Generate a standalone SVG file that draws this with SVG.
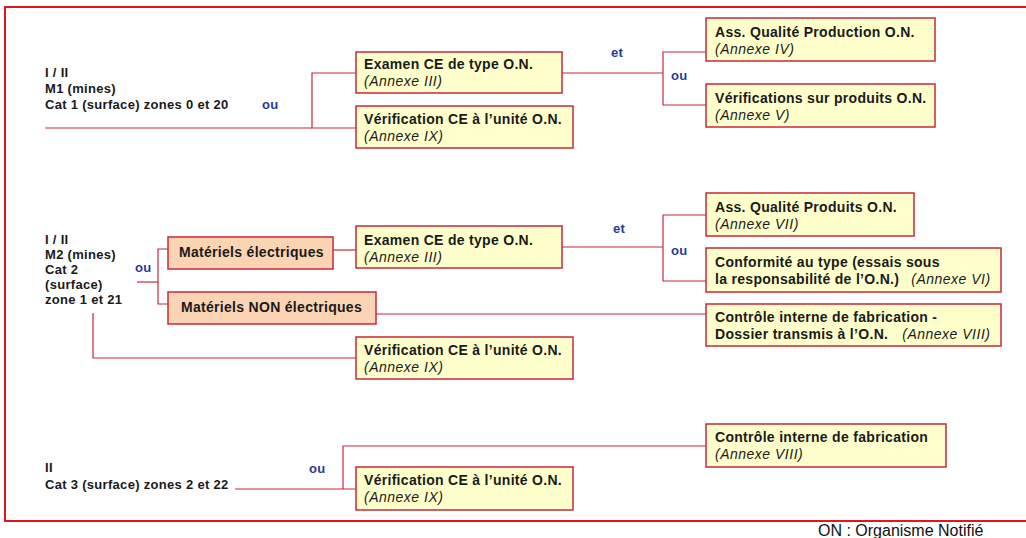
<svg xmlns="http://www.w3.org/2000/svg" width="1026" height="538" viewBox="0 0 1026 538">
<style>
.frame{fill:none;stroke:#e2141c;stroke-width:2}
.y{fill:#ffffcc;stroke:#c8283c;stroke-width:1.5}
.o{fill:#fbd4b4;stroke:#c8283c;stroke-width:1.5}
.ln{fill:none;stroke:#c8283c;stroke-width:1.2}
text{font-family:"Liberation Sans",Arial,sans-serif;font-size:14px;font-weight:bold;fill:#1a1a1a;letter-spacing:0.3px}
.i{font-style:italic;font-weight:normal;letter-spacing:0.5px}
.lab{font-size:13px}
.ou{fill:#1f3c99;font-size:13px}
.foot{font-weight:normal;font-size:16px;fill:#111;letter-spacing:0}
</style>
<rect class="frame" x="5" y="7" width="1040" height="514"/>
<text class="foot" x="818" y="536">ON : Organisme Notifié</text>
<g id="connectors">
<polyline class="ln" points="45,128 312,128"/>
<polyline class="ln" points="356,73 312,73 312,128 356,128"/>
<polyline class="ln" points="562,73 663,73"/>
<polyline class="ln" points="706,52 663,52 663,105 706,105"/>
<polyline class="ln" points="137,282 158,282"/>
<polyline class="ln" points="169,249 158,249 158,304 169,304"/>
<polyline class="ln" points="333,250 356,250"/>
<polyline class="ln" points="562,247 663,247"/>
<polyline class="ln" points="706,215 663,215 663,281 706,281"/>
<polyline class="ln" points="376,314 706,314"/>
<polyline class="ln" points="93,313 93,358 356,358"/>
<polyline class="ln" points="235,489 356,489"/>
<polyline class="ln" points="343,489 343,446 706,446"/>
</g>
<g id="labels">
<text class="lab" x="45" y="77">I / II</text>
<text class="lab" x="45" y="93">M1 (mines)</text>
<text class="lab" x="45" y="109">Cat 1 (surface) zones 0 et 20</text>
<text class="ou" x="262" y="109">ou</text>
<text class="ou" x="611" y="57">et</text>
<text class="ou" x="671" y="80">ou</text>
<text class="lab" x="45" y="244">I / II</text>
<text class="lab" x="45" y="259">M2 (mines)</text>
<text class="lab" x="45" y="274">Cat 2</text>
<text class="lab" x="45" y="289">(surface)</text>
<text class="lab" x="45" y="304">zone 1 et 21</text>
<text class="ou" x="135" y="272">ou</text>
<text class="ou" x="613" y="233">et</text>
<text class="ou" x="671" y="255">ou</text>
<text class="lab" x="45" y="472">II</text>
<text class="lab" x="45" y="489">Cat 3 (surface) zones 2 et 22</text>
<text class="ou" x="309" y="473">ou</text>
</g>
<g id="n1"><rect class="y" x="356" y="52" width="206" height="41"/><text x="364" y="69">Examen CE de type O.N.</text><text class="i" x="364" y="86">(Annexe III)</text></g>
<g id="n2"><rect class="y" x="356" y="106" width="217" height="42"/><text x="364" y="124">Vérification CE à l’unité O.N.</text><text class="i" x="364" y="141">(Annexe IX)</text></g>
<g id="n3"><rect class="y" x="706" y="18" width="229" height="43"/><text x="715" y="37">Ass. Qualité Production O.N.</text><text class="i" x="715" y="54">(Annexe IV)</text></g>
<g id="n4"><rect class="y" x="706" y="84" width="229" height="43"/><text x="715" y="103">Vérifications sur produits O.N.</text><text class="i" x="715" y="120">(Annexe V)</text></g>
<g id="n5"><rect class="o" x="168" y="237" width="165" height="32"/><text x="179" y="257">Matériels électriques</text></g>
<g id="n6"><rect class="o" x="168" y="292" width="208" height="32"/><text x="181" y="312">Matériels NON électriques</text></g>
<g id="n7"><rect class="y" x="356" y="226" width="206" height="42"/><text x="364" y="245">Examen CE de type O.N.</text><text class="i" x="364" y="262">(Annexe III)</text></g>
<g id="n8"><rect class="y" x="706" y="193" width="208" height="43"/><text x="715" y="212">Ass. Qualité Produits O.N.</text><text class="i" x="715" y="229">(Annexe VII)</text></g>
<g id="n9"><rect class="y" x="706" y="248" width="295" height="44"/><text x="715" y="267">Conformité au type (essais sous</text><text x="715" y="284">la responsabilité de l’O.N.)<tspan class="i" dx="12">(Annexe VI)</tspan></text></g>
<g id="n10"><rect class="y" x="706" y="304" width="295" height="42"/><text x="715" y="322">Contrôle interne de fabrication -</text><text x="715" y="339">Dossier transmis à l’O.N.<tspan class="i" dx="14">(Annexe VIII)</tspan></text></g>
<g id="n11"><rect class="y" x="356" y="337" width="217" height="42"/><text x="364" y="355">Vérification CE à l’unité O.N.</text><text class="i" x="364" y="372">(Annexe IX)</text></g>
<g id="n12"><rect class="y" x="706" y="424" width="240" height="43"/><text x="715" y="442">Contrôle interne de fabrication</text><text class="i" x="715" y="459">(Annexe VIII)</text></g>
<g id="n13"><rect class="y" x="356" y="467" width="217" height="43"/><text x="364" y="485">Vérification CE à l’unité O.N.</text><text class="i" x="364" y="502">(Annexe IX)</text></g>
</svg>
